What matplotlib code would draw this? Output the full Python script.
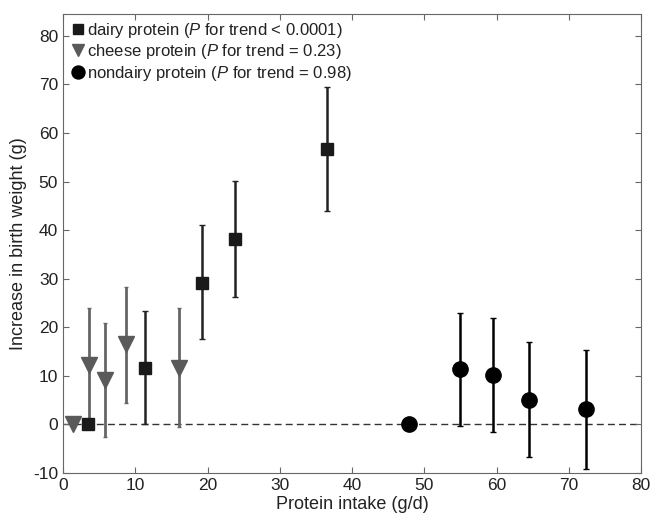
import matplotlib
matplotlib.use('Agg')
import matplotlib.pyplot as plt
import numpy as np

plt.rcParams['font.family'] = ['Liberation Sans', 'DejaVu Sans']
plt.rcParams['mathtext.fontset'] = 'custom'
plt.rcParams['mathtext.rm'] = 'Liberation Sans'
plt.rcParams['mathtext.it'] = 'Liberation Sans:italic'
plt.rcParams['axes.unicode_minus'] = False

# dairy protein
dairyX = [3.4, 11.4, 19.2, 23.8, 36.5]
dairyY = [0, 11.7, 29.2, 38.2, 56.8]
dairyLo = [0, 0, 17.5, 26.3, 44.0]
dairyHi = [0, 23.3, 41.0, 50.2, 69.4]

# cheese protein
cheeseX = [1.4, 3.6, 5.8, 8.7, 16.0]
cheeseY = [0, 12.2, 9.2, 16.5, 11.6]
cheeseLo = [0, 0, -2.5, 4.5, -0.5]
cheeseHi = [0, 24.0, 20.8, 28.3, 24.0]

# nondairy protein
nonX = [47.9, 54.9, 59.5, 64.5, 72.4]
nonY = [0, 11.4, 10.2, 5.1, 3.2]
nonLo = [0, -0.3, -1.5, -6.8, -9.2]
nonHi = [0, 23.0, 22.0, 16.9, 15.3]

def errs(y, lo, hi):
    y = np.array(y); lo = np.array(lo); hi = np.array(hi)
    return [y - lo, hi - y]

fig = plt.figure(figsize=(6.53, 5.19), dpi=100)
ax = fig.add_axes([0.0965, 0.0886, 0.8855, 0.8844])

ax.axhline(0, color='#333333', linestyle='--', linewidth=1, dashes=(5, 3), zorder=1)

ax.errorbar(cheeseX, cheeseY, yerr=errs(cheeseY, cheeseLo, cheeseHi), fmt='v', color='#5a5a5a',
            ecolor='#666666', elinewidth=2, capsize=1.5, markersize=11, zorder=2,
            label='cheese protein ($\\mathit{P}$ for trend = 0.23)')
ax.errorbar(dairyX, dairyY, yerr=errs(dairyY, dairyLo, dairyHi), fmt='s', color='#1a1a1a',
            ecolor='#222222', elinewidth=1.8, capsize=2.5, markersize=8.5, zorder=3,
            label='dairy protein ($\\mathit{P}$ for trend < 0.0001)')
ax.errorbar(nonX, nonY, yerr=errs(nonY, nonLo, nonHi), fmt='o', color='black',
            ecolor='black', elinewidth=1.8, capsize=2.5, markersize=11, zorder=3,
            label='nondairy protein ($\\mathit{P}$ for trend = 0.98)')

ax.set_xlim(0, 80)
ax.set_ylim(-10, 84.5)
ax.set_xticks(range(0, 81, 10))
ax.set_yticks(range(-10, 81, 10))
for s in ax.spines.values():
    s.set_color('#666666')
ax.tick_params(direction='in', top=True, right=True, labelsize=12.5, length=4,
               color='#666666', labelcolor='#222222')
ax.set_xlabel('Protein intake (g/d)', fontsize=13, labelpad=2, color='#222222')
ax.set_ylabel('Increase in birth weight (g)', fontsize=13, labelpad=4, color='#222222')

h, l = ax.get_legend_handles_labels()
order = [1, 0, 2]
leg = ax.legend([h[i][0] for i in order], [l[i] for i in order], loc='upper left', frameon=False,
                fontsize=12, handletextpad=0.05, borderaxespad=0.1, labelspacing=0.15,
                handlelength=1.0, borderpad=0.3, markerscale=0.85)
for t in leg.get_texts():
    t.set_color('#222222')

plt.savefig('out.png', dpi=100)
